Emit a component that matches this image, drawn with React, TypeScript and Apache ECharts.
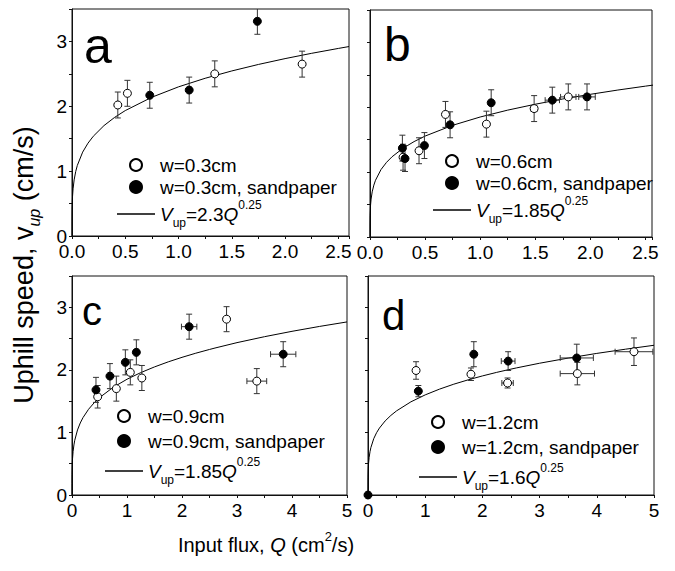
import React, { useEffect, useRef } from 'react';
import * as echarts from 'echarts';

const FONT = "'Liberation Sans', Arial, Helvetica, sans-serif";

// each point: [Q, V, dV, dQ]
const A_OPEN = [[0.43, 2.02, 0.2, 0], [0.52, 2.2, 0.2, 0], [1.34, 2.5, 0.2, 0], [2.16, 2.65, 0.2, 0]];
const A_FILLED = [[0.73, 2.17, 0.2, 0], [1.1, 2.25, 0.2, 0], [1.74, 3.31, 0.2, 0]];
const B_OPEN = [[0.3, 1.23, 0.2, 0], [0.445, 1.33, 0.2, 0], [0.685, 1.89, 0.2, 0], [1.057, 1.74, 0.2, 0], [1.49, 1.98, 0.2, 0.03], [1.8, 2.16, 0.2, 0.07]];
const B_FILLED = [[0.294, 1.37, 0.2, 0], [0.318, 1.21, 0.2, 0], [0.494, 1.41, 0.2, 0], [0.727, 1.73, 0.2, 0], [1.1, 2.07, 0.2, 0], [1.655, 2.11, 0.2, 0.065], [1.97, 2.16, 0.2, 0.075]];
const C_OPEN = [[0.467, 1.57, 0.18, 0], [0.806, 1.7, 0.2, 0], [1.06, 1.96, 0.2, 0], [1.27, 1.87, 0.2, 0], [2.81, 2.81, 0.2, 0], [3.36, 1.82, 0.2, 0.18]];
const C_FILLED = [[0.436, 1.68, 0.2, 0], [0.69, 1.9, 0.2, 0], [0.97, 2.12, 0.2, 0], [1.17, 2.28, 0.2, 0], [2.13, 2.69, 0.2, 0.14], [3.84, 2.25, 0.2, 0.23]];
const D_OPEN = [[0.84, 1.99, 0.14, 0], [1.8, 1.93, 0.1, 0], [2.44, 1.79, 0.08, 0.1], [3.66, 1.94, 0.18, 0.3], [4.65, 2.29, 0.22, 0.33]];
const D_FILLED = [[0, 0, 0, 0], [0.88, 1.66, 0.09, 0], [1.85, 2.25, 0.2, 0], [2.45, 2.14, 0.15, 0.12], [3.65, 2.19, 0.22, 0.29]];

// fitted curves V = k Q^0.25, sampled
const FIT_Q = [0, 0.0001, 0.001, 0.005, 0.01, 0.02, 0.035, 0.05, 0.1, 0.15, 0.2, 0.3, 0.4, 0.5, 0.75, 1, 1.25, 1.5, 1.75, 2, 2.25, 2.5, 2.6, 3, 3.5, 4, 4.5, 5];
const FIT_A_V = [0, 0.23, 0.409, 0.612, 0.727, 0.865, 0.995, 1.088, 1.293, 1.431, 1.538, 1.702, 1.829, 1.934, 2.14, 2.3, 2.432, 2.545, 2.645, 2.735, 2.817, 2.892, 2.921];
const FIT_BC_V = [0, 0.185, 0.329, 0.492, 0.585, 0.696, 0.8, 0.875, 1.04, 1.151, 1.237, 1.369, 1.471, 1.556, 1.722, 1.85, 1.956, 2.047, 2.128, 2.2, 2.266, 2.326, 2.349, 2.435, 2.53, 2.616, 2.694, 2.766];
const FIT_D_V = [0, 0.16, 0.285, 0.425, 0.506, 0.602, 0.692, 0.757, 0.9, 0.996, 1.07, 1.184, 1.272, 1.345, 1.489, 1.6, 1.692, 1.771, 1.84, 1.903, 1.96, 2.012, 2.032, 2.106, 2.188, 2.263, 2.33, 2.393];

const WIDTHS = ['0.3', '0.6', '0.9', '1.2'];
const COEFS = ['2.3', '1.85', '1.85', '1.6'];
const LETTERS = ['a', 'b', 'c', 'd'];

const PANELS = [
  { grid: { left: 72, top: 9, width: 277, height: 227 }, xMax: 2.6, xInt: 0.25, xStep: 0.5, xDec: 1, yLabels: true, open: A_OPEN, filled: A_FILLED, fit: FIT_A_V, legend: { left: 117, top: 155, itemGap: 2 }, letter: { x: 84, y: 46, size: 50 } },
  { grid: { left: 370, top: 10, width: 282, height: 227 }, xMax: 2.56, xInt: 0.25, xStep: 0.5, xDec: 1, yLabels: false, open: B_OPEN, filled: B_FILLED, fit: FIT_BC_V.slice(0, 23), legend: { left: 433, top: 151, itemGap: 2 }, letter: { x: 384, y: 44, size: 48 } },
  { grid: { left: 72, top: 276, width: 275, height: 219 }, xMax: 5, xInt: 0.5, xStep: 1, xDec: 0, yLabels: true, open: C_OPEN, filled: C_FILLED, fit: FIT_BC_V, legend: { left: 105, top: 406, itemGap: 5 }, letter: { x: 82, y: 311, size: 40 } },
  { grid: { left: 368, top: 276, width: 286, height: 219 }, xMax: 5, xInt: 0.5, xStep: 1, xDec: 0, yLabels: false, open: D_OPEN, filled: D_FILLED, fit: FIT_D_V, legend: { left: 419, top: 412, itemGap: 5 }, letter: { x: 382, y: 315, size: 42 } },
];

const isMult = (v: number, s: number) => Math.abs(v / s - Math.round(v / s)) < 1e-6;

function errorBarRender(params: any, api: any) {
  const x = api.value(0), y = api.value(1), dy = api.value(2), dx = api.value(3);
  const c = api.coord([x, y]);
  const style = { stroke: '#333', lineWidth: 1 };
  const cap = 3;
  const children: any[] = [];
  if (dy > 0) {
    const t = api.coord([x, y + dy]);
    const b = api.coord([x, y - dy]);
    children.push({ type: 'line', shape: { x1: c[0], y1: t[1], x2: c[0], y2: b[1] }, style });
    children.push({ type: 'line', shape: { x1: c[0] - cap, y1: t[1], x2: c[0] + cap, y2: t[1] }, style });
    children.push({ type: 'line', shape: { x1: c[0] - cap, y1: b[1], x2: c[0] + cap, y2: b[1] }, style });
  }
  if (dx > 0) {
    const l = api.coord([x - dx, y]);
    const r = api.coord([x + dx, y]);
    children.push({ type: 'line', shape: { x1: l[0], y1: c[1], x2: r[0], y2: c[1] }, style });
    children.push({ type: 'line', shape: { x1: l[0], y1: c[1] - cap, x2: l[0], y2: c[1] + cap }, style });
    children.push({ type: 'line', shape: { x1: r[0], y1: c[1] - cap, x2: r[0], y2: c[1] + cap }, style });
  }
  return { type: 'group', children };
}

function buildOption() {
  const grid: any[] = [];
  const xAxis: any[] = [];
  const yAxis: any[] = [];
  const series: any[] = [];
  const legend: any[] = [];
  const graphic: any[] = [];

  const fitName = (i: number) => `fit-${LETTERS[i]}`;

  PANELS.forEach((p, i) => {
    grid.push({ ...p.grid, show: true, borderColor: '#111', borderWidth: 1, backgroundColor: 'transparent', outerBoundsMode: 'none', containLabel: false });
    xAxis.push({
      type: 'value', gridIndex: i, min: 0, max: p.xMax, interval: p.xInt,
      axisLine: { show: true, onZero: false, lineStyle: { color: '#111', width: 1 } },
      axisTick: { show: true, length: 3, lineStyle: { color: '#111' } },
      splitLine: { show: false },
      axisLabel: {
        show: true, interval: 0, margin: 8, showMinLabel: true, showMaxLabel: true,
        fontSize: 19, lineHeight: 14, fontFamily: FONT, color: '#000',
        formatter: (v: number) => (isMult(v, p.xStep) ? v.toFixed(p.xDec) : ''),
      },
    });
    yAxis.push({
      type: 'value', gridIndex: i, min: 0, max: 3.5, interval: 0.5,
      axisLine: { show: true, onZero: false, lineStyle: { color: '#111', width: 1 } },
      axisTick: { show: true, length: 3, lineStyle: { color: '#111' } },
      splitLine: { show: false },
      axisLabel: {
        show: p.yLabels, interval: 0, margin: 5, showMinLabel: true, showMaxLabel: true,
        fontSize: 19, lineHeight: 14, fontFamily: FONT, color: '#000',
        formatter: (v: number) => (isMult(v, 1) ? String(Math.round(v)) : ''),
      },
    });
    const openName = `w=${WIDTHS[i]}cm`;
    const filledName = `w=${WIDTHS[i]}cm, sandpaper`;
    series.push({
      type: 'line', name: fitName(i), xAxisIndex: i, yAxisIndex: i,
      data: p.fit.map((v, k) => [FIT_Q[k], v]),
      symbol: 'none', showSymbol: false, smooth: false, clip: true,
      lineStyle: { color: '#000', width: 1 }, itemStyle: { color: '#000' }, z: 2,
    });
    series.push({
      type: 'custom', xAxisIndex: i, yAxisIndex: i, data: [...p.open, ...p.filled],
      renderItem: errorBarRender, encode: { x: 0, y: 1 }, clip: true, z: 3, silent: true,
    });
    series.push({
      type: 'scatter', name: openName, xAxisIndex: i, yAxisIndex: i,
      data: p.open.map((d) => [d[0], d[1]]), symbol: 'circle', symbolSize: 8,
      itemStyle: { color: '#fff', borderColor: '#000', borderWidth: 1, opacity: 1 }, z: 4, clip: false,
    });
    series.push({
      type: 'scatter', name: filledName, xAxisIndex: i, yAxisIndex: i,
      data: p.filled.map((d) => [d[0], d[1]]), symbol: 'circle', symbolSize: 8,
      itemStyle: { color: '#000', borderColor: '#000', borderWidth: 1, opacity: 1 }, z: 4, clip: false,
    });
    legend.push({
      orient: 'vertical', left: p.legend.left, top: p.legend.top, padding: 0, itemGap: p.legend.itemGap,
      itemWidth: 38, itemHeight: 12, selectedMode: false,
      data: [
        openName,
        filledName,
        {
          name: fitName(i),
          icon: 'path://M0,0H38V1.3H0Z',
          itemStyle: { color: '#000', borderWidth: 0 },
        },
      ],
      formatter: (name: string) => (name.startsWith('fit-')
        ? `{i|V}{sub|up}{n|=${COEFS[i]}}{i|Q}{sup|0.25}`
        : name),
      textStyle: {
        fontSize: 19, fontFamily: FONT, color: '#000', lineHeight: 20,
        rich: {
          i: { fontSize: 19, fontStyle: 'italic', fontFamily: FONT, color: '#000', lineHeight: 30 },
          n: { fontSize: 19, fontFamily: FONT, color: '#000', lineHeight: 30 },
          sub: { fontSize: 12, fontFamily: FONT, color: '#000', lineHeight: 13, verticalAlign: 'bottom' },
          sup: { fontSize: 12, fontFamily: FONT, color: '#000', lineHeight: 13, verticalAlign: 'top' },
        },
      },
    });
    graphic.push({
      type: 'text', x: p.letter.x, y: p.letter.y, z: 10,
      style: { text: LETTERS[i], fontSize: p.letter.size, fontFamily: FONT, fill: '#000', align: 'left', verticalAlign: 'middle' },
    });
  });

  graphic.push({
    type: 'text', x: 24, y: 265, rotation: Math.PI / 2, z: 10,
    style: {
      text: '{n|Uphill speed, v}{s|up}{n| (cm/s)}', align: 'center', verticalAlign: 'middle',
      rich: {
        n: { fontSize: 27, fontFamily: FONT, fill: '#000', lineHeight: 36 },
        s: { fontSize: 16, fontFamily: FONT, fontStyle: 'italic', fill: '#000', lineHeight: 16, verticalAlign: 'bottom' },
      },
    },
  });
  graphic.push({
    type: 'text', x: 266, y: 545, z: 10,
    style: {
      text: '{n|Input flux, }{i|Q}{n| (cm}{sup|2}{n|/s)}', align: 'center', verticalAlign: 'middle',
      rich: {
        n: { fontSize: 20, fontFamily: FONT, fill: '#000', lineHeight: 30 },
        i: { fontSize: 20, fontFamily: FONT, fontStyle: 'italic', fill: '#000', lineHeight: 30 },
        sup: { fontSize: 13, fontFamily: FONT, fill: '#000', lineHeight: 14, verticalAlign: 'top' },
      },
    },
  });

  return {
    animation: false,
    backgroundColor: '#fff',
    textStyle: { fontFamily: FONT },
    grid, xAxis, yAxis, series, legend, graphic,
  };
}

export default function App() {
  const ref = useRef<HTMLDivElement>(null);
  useEffect(() => {
    document.body.style.margin = '0';
    const chart = echarts.init(ref.current as HTMLDivElement, null, { renderer: 'svg' });
    chart.setOption(buildOption() as any);
    return () => chart.dispose();
  }, []);
  return <div ref={ref} style={{ width: 675, height: 571 }} />;
}
